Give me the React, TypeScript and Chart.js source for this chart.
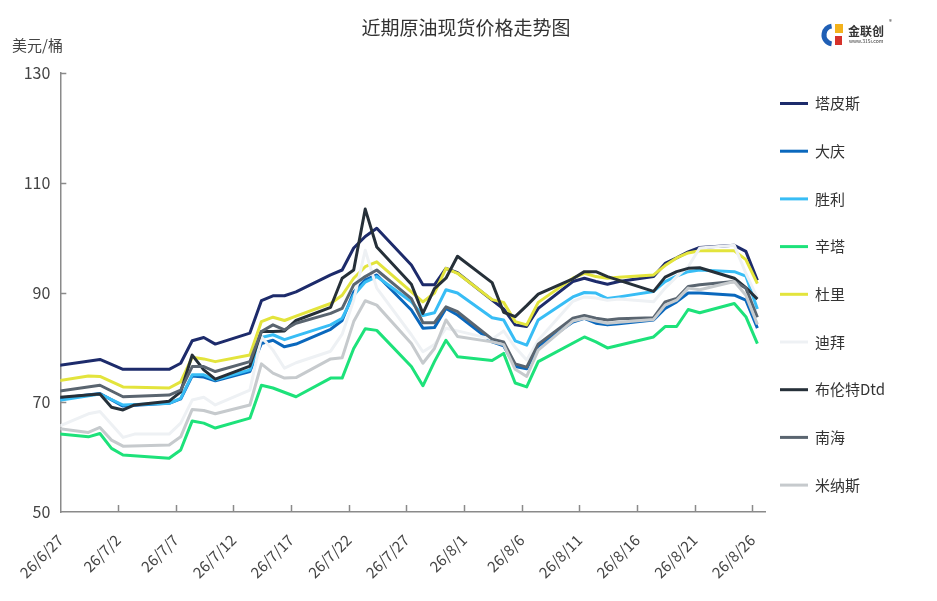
import React, { useEffect, useRef } from "react";
import { Chart, registerables } from "chart.js";

Chart.register(...registerables);

// ---- data ----
// trading days, counted from 26/6/27 (day 0)
const tradingDays = [
  -1, 2, 3, 4, 5, 6, 9, 10, 11, 12, 13, 16, 17, 18, 19, 20, 23, 24, 25, 26, 27,
  30, 31, 32, 33, 34, 37, 38, 39, 40, 41, 44, 45, 46, 47, 48, 51, 52, 53, 54, 55,
  58, 59, 60,
];
const quoteHour = 10.5; // quote time of day
const tickLabels = [
  "26/6/27", "26/7/2", "26/7/7", "26/7/12", "26/7/17", "26/7/22", "26/7/27",
  "26/8/1", "26/8/6", "26/8/11", "26/8/16", "26/8/21", "26/8/26",
];
const yTicks = [50, 70, 90, 110, 130];

const seriesNames = ["塔皮斯", "大庆", "胜利", "辛塔", "杜里", "迪拜", "布伦特Dtd", "南海", "米纳斯"];
const seriesColors = ["#1d2b6b", "#0a68bd", "#38bdf5", "#1de27a", "#e3e43c", "#eef1f4", "#263039", "#5a6570", "#c6cacd"];

const tapis = [76.6, null, 77.8, null, 76.0, null, 76.0, 77.1, 81.2, 81.8, 80.6, 82.6, 88.5, 89.4, 89.4, 90.1, 93.2, 94.1, 98.1, 100.2, 101.7, 95.0, 91.4, 91.4, 94.4, 93.6, 88.6, 87.0, 84.1, 83.8, 87.1, 92.0, 92.6, 92.0, 91.5, 92.0, 92.9, 95.3, 96.3, 97.4, 98.2, 98.6, 97.5, 92.2];
const daqing = [70.6, null, 71.6, null, 69.3, null, 69.8, 70.6, 74.8, 74.6, 73.9, 75.6, 80.7, 81.3, 80.1, 80.6, 83.3, 84.9, 90.1, 92.3, 93.2, 86.8, 83.5, 83.6, 87.1, 85.9, 81.0, 80.3, 76.5, 76.1, 80.2, 84.6, 85.3, 84.4, 84.1, 84.3, 85.0, 87.1, 88.3, 89.9, 89.9, 89.5, 88.6, 83.5];
const shengli = [70.2, null, 71.5, null, 69.5, null, 69.8, 70.7, 75.0, 75.0, 74.1, 75.9, 81.8, 82.3, 81.4, 82.1, 84.1, 85.3, 89.5, 91.9, 92.9, 88.3, 85.8, 86.3, 90.5, 89.9, 85.4, 85.0, 81.2, 80.4, 85.0, 89.2, 90.0, 89.9, 88.9, 89.2, 90.2, 92.0, 93.0, 93.8, 94.1, 93.8, 93.0, 87.0];
const xinta = [64.3, 63.7, 64.3, 61.6, 60.4, null, 59.8, 61.3, 66.6, 66.2, 65.3, 67.1, 73.1, 72.6, null, 71.0, 74.4, 74.4, 79.8, 83.4, 83.1, 76.5, 73.0, 77.4, 81.3, 78.3, 77.6, 78.9, 73.5, 72.8, 77.4, null, 81.9, 81.0, 79.9, null, 81.9, 83.8, 83.8, 86.9, 86.3, 88.0, 85.6, 80.7];
const duri = [73.8, 74.8, 74.7, null, 72.8, null, 72.6, 73.7, 78.2, 77.9, 77.4, 78.6, 84.7, 85.5, 84.9, 85.7, 88.0, 89.5, 92.6, 94.7, 95.6, 90.1, 88.3, 89.9, 94.4, 93.5, 88.7, 88.2, 84.7, 84.1, 88.2, 92.6, 93.5, 92.9, 92.6, 92.8, 93.2, 94.9, 96.3, 97.2, 97.6, 97.6, 96.0, 91.6];
const dubai = [65.2, 67.9, 68.3, null, 63.6, 64.2, 64.2, 66.2, 70.4, 70.9, 69.5, 72.2, 81.9, 79.5, 76.2, 77.2, 79.3, 82.4, 88.6, 97.7, 90.8, 82.3, 79.2, 80.5, 83.5, 83.0, 81.5, 83.0, 80.0, 77.7, 81.3, 88.4, 89.2, 89.0, 88.6, 88.8, 88.3, 90.8, 92.9, 94.7, 98.1, 98.6, 93.5, 89.0];
const brentDtd = [70.8, null, 71.5, 69.1, 68.6, 69.5, 70.2, 71.9, 78.6, 75.9, 74.2, 76.6, 82.9, 82.9, 83.0, 84.9, 87.3, 92.6, 94.1, 105.2, 98.3, 91.5, 86.2, 90.7, 92.6, 96.6, 91.8, 86.4, 85.6, 87.6, 89.7, 92.5, 93.8, 93.8, 92.9, null, 90.2, 92.8, 93.8, 94.4, 94.5, 92.6, 90.9, 88.8];
const nanhai = [71.9, null, 73.1, null, 71.0, null, 71.3, 72.2, 76.5, 76.5, 75.6, 77.4, 82.9, 84.1, 83.2, 84.4, 86.2, 87.1, 91.4, 92.9, 94.1, 88.9, 84.5, 84.5, 87.4, 86.5, 81.5, 81.0, 77.0, 76.4, 80.6, 85.3, 85.8, 85.3, 85.0, 85.2, 85.4, 88.3, 88.9, 91.1, 91.4, 92.0, 90.8, 85.5];
const minas = [65.3, 64.5, 65.4, 63.1, 62.0, null, 62.2, 63.7, 68.7, 68.5, 67.9, 69.5, 77.0, 75.3, 74.4, 74.5, 77.9, 78.1, 84.7, 88.5, 87.7, 80.7, 77.1, 79.8, 85.0, 82.0, 81.0, 80.5, 76.0, 74.7, 79.5, 84.8, 85.3, 84.8, 84.4, 84.6, 85.1, 87.7, 88.6, 90.8, 90.5, 92.0, 89.5, 84.2];

const seriesValues = [tapis, daqing, shengli, xinta, duri, dubai, brentDtd, nanhai, minas];

const TITLE = "近期原油现货价格走势图";
const UNIT = "美元/桶";
const FONT = '"Noto Sans CJK SC", "Noto Sans", sans-serif';
const AXIS_COLOR = "#8a8a8a";
const TEXT_COLOR = "#444444";

const decorPlugin = {
  id: "decor",
  afterDraw(chart: any) {
    const { ctx, chartArea, scales } = chart;
    const xs = scales.x;
    const ys = scales.y;
    ctx.save();
    // inward tick marks
    ctx.strokeStyle = AXIS_COLOR;
    ctx.lineWidth = 1.5;
    ys.ticks.forEach((t: any) => {
      if (t.value === ys.min) return;
      const py = Math.round(ys.getPixelForValue(t.value)) + 0.5;
      ctx.beginPath();
      ctx.moveTo(chartArea.left, py);
      ctx.lineTo(chartArea.left + 6, py);
      ctx.stroke();
    });
    xs.ticks.forEach((t: any) => {
      if (t.value === xs.min) return;
      const px = Math.round(xs.getPixelForValue(t.value)) + 0.5;
      ctx.beginPath();
      ctx.moveTo(px, chartArea.bottom);
      ctx.lineTo(px, chartArea.bottom - 7);
      ctx.stroke();
    });
    // title
    ctx.fillStyle = "#333333";
    ctx.textBaseline = "middle";
    ctx.textAlign = "center";
    ctx.font = `19px ${FONT}`;
    ctx.fillText(TITLE, 466, 28);
    // unit
    ctx.textAlign = "left";
    ctx.font = `15px ${FONT}`;
    ctx.fillStyle = TEXT_COLOR;
    ctx.fillText(UNIT, 12, 45);
    // legend
    chart.data.datasets.forEach((ds: any, i: number) => {
      const ly = 103.5 + i * 47.7;
      ctx.strokeStyle = ds.borderColor;
      ctx.lineWidth = 3;
      ctx.beginPath();
      ctx.moveTo(780, ly);
      ctx.lineTo(808, ly);
      ctx.stroke();
      ctx.fillStyle = "#333333";
      ctx.font = `15px ${FONT}`;
      ctx.textAlign = "left";
      ctx.fillText(ds.label, 815, ly);
    });
    // logo
    ctx.beginPath();
    ctx.arc(833, 35, 9, Math.PI * 0.55, Math.PI * 1.45);
    ctx.lineWidth = 5;
    ctx.strokeStyle = "#1f5fb5";
    ctx.stroke();
    ctx.fillStyle = "#f3b21c";
    ctx.fillRect(835, 24, 8, 9);
    ctx.fillStyle = "#d6322b";
    ctx.fillRect(835, 36, 7, 9);
    ctx.fillStyle = "#333333";
    ctx.font = `bold 12px ${FONT}`;
    ctx.fillText("金联创", 848, 31);
    ctx.font = `5px ${FONT}`;
    ctx.fillText("www.315i.com", 849, 41);
    ctx.font = `6px ${FONT}`;
    ctx.fillText("®", 889, 22);
    ctx.restore();
  },
};

export default function App() {
  const canvasRef = useRef<HTMLCanvasElement | null>(null);

  useEffect(() => {
    if (!canvasRef.current) return;
    const offset = quoteHour / 24;
    const chart = new Chart(canvasRef.current, {
      type: "line",
      data: {
        datasets: seriesNames.map((name, i) => ({
          label: name,
          data: tradingDays.map((d, j) => ({ x: d + offset, y: seriesValues[i][j] })),
          borderColor: seriesColors[i],
          backgroundColor: seriesColors[i],
          borderWidth: 3,
          pointRadius: 0,
          pointHoverRadius: 0,
          tension: 0,
          spanGaps: true,
          borderJoinStyle: "round",
          borderCapStyle: "butt",
          order: seriesNames.length - i,
        })),
      },
      options: {
        responsive: false,
        animation: false,
        events: [],
        layout: { padding: { left: 0, top: 73, right: 171.4, bottom: 19 } },
        plugins: {
          legend: { display: false },
          tooltip: { enabled: false },
          title: { display: false },
        },
        scales: {
          x: {
            type: "linear",
            min: 0,
            max: 61.15,
            afterBuildTicks: (s: any) => {
              s.ticks = tickLabels.map((_, i) => ({ value: i * 5 }));
            },
            afterFit: (s: any) => {
              s.height = 70;
            },
            ticks: {
              autoSkip: false,
              minRotation: 45,
              maxRotation: 45,
              padding: 19,
              color: TEXT_COLOR,
              font: { family: FONT, size: 15 },
              callback: (v: any) => tickLabels[Math.round(Number(v) / 5)] ?? "",
            },
            grid: { display: false, drawTicks: false },
            border: { display: true, color: AXIS_COLOR, width: 1.5 },
          },
          y: {
            type: "linear",
            min: 50,
            max: 130,
            afterBuildTicks: (s: any) => {
              s.ticks = yTicks.map((v) => ({ value: v }));
            },
            afterFit: (s: any) => {
              s.width = 60.3;
            },
            ticks: {
              padding: 10,
              color: TEXT_COLOR,
              font: { family: FONT, size: 16 },
            },
            grid: { display: false, drawTicks: false },
            border: { display: true, color: AXIS_COLOR, width: 1.5 },
          },
        },
      },
      plugins: [decorPlugin],
    } as any);
    return () => chart.destroy();
  }, []);

  return (
    <div style={{ position: "fixed", left: 0, top: 0, width: 937, height: 601, background: "#ffffff" }}>
      <canvas ref={canvasRef} width={937} height={601} style={{ display: "block" }} />
    </div>
  );
}
